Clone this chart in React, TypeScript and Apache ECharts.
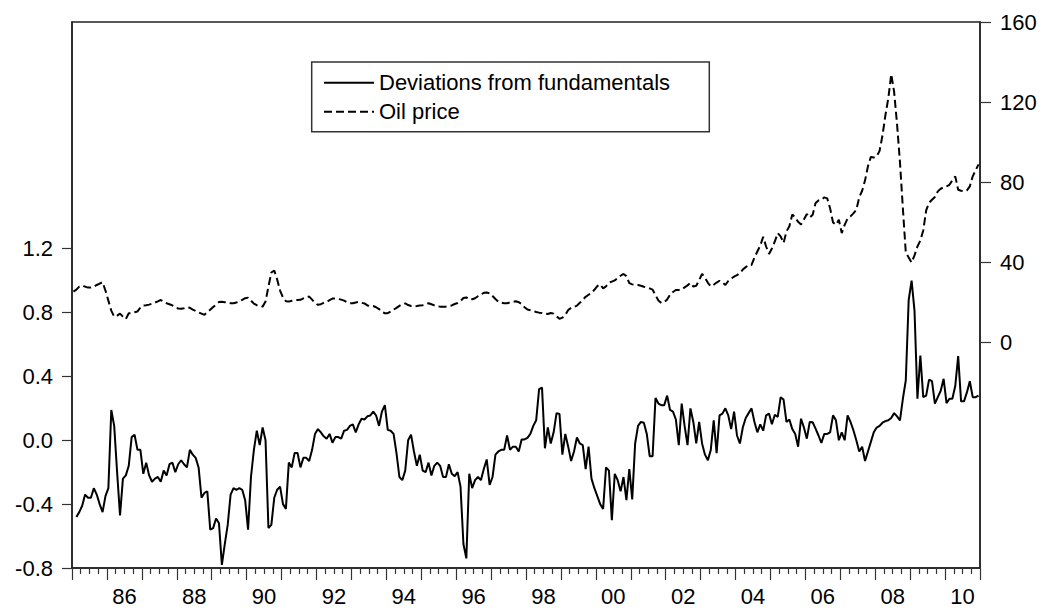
import React, { useEffect, useRef } from "react";
import * as echarts from "echarts";

// Monthly observations; deviations start 1985m2, oil price starts 1985m1
const START_YEAR = 1985;
const DEV_START_MONTH = 1;
const OIL_START_MONTH = 0;

const deviations = [
  -0.48, -0.45, -0.41, -0.34, -0.36, -0.36, -0.3, -0.34, -0.4, -0.45, -0.35,
  -0.3, 0.19, 0.09, -0.2, -0.47, -0.24, -0.22, -0.16, 0.02, 0.035, -0.06, -0.06,
  -0.21, -0.14, -0.22, -0.26, -0.24, -0.23, -0.26, -0.19, -0.22, -0.15, -0.14, -0.2,
  -0.15, -0.125, -0.15, -0.17, -0.06, -0.09, -0.11, -0.17, -0.36, -0.33, -0.32, -0.56,
  -0.55, -0.49, -0.52, -0.78, -0.65, -0.53, -0.34, -0.3, -0.31, -0.3, -0.31, -0.375,
  -0.56, -0.23, -0.06, 0.06, -0.03, 0.08, 0.0, -0.55, -0.53, -0.36, -0.31, -0.29,
  -0.4, -0.43, -0.14, -0.17, -0.08, -0.08, -0.17, -0.11, -0.11, -0.13, -0.06, 0.04,
  0.07, 0.05, 0.025, 0.01, 0.04, -0.015, 0.02, 0.02, 0.01, 0.06, 0.065, 0.09,
  0.1, 0.05, 0.1, 0.135, 0.13, 0.15, 0.155, 0.18, 0.155, 0.09, 0.18, 0.22,
  0.065, 0.06, 0.04, -0.08, -0.23, -0.25, -0.19, 0.0, 0.035, -0.07, -0.16, -0.09,
  -0.19, -0.2, -0.14, -0.22, -0.16, -0.14, -0.16, -0.23, -0.23, -0.15, -0.21, -0.225,
  -0.2, -0.29, -0.65, -0.74, -0.21, -0.3, -0.25, -0.23, -0.25, -0.18, -0.12, -0.28,
  -0.23, -0.09, -0.07, -0.06, -0.06, 0.03, -0.06, -0.04, -0.04, -0.07, 0.005, 0.005,
  0.015, 0.04, 0.09, 0.125, 0.32, 0.33, -0.05, 0.08, -0.02, 0.05, 0.17, 0.165,
  -0.09, 0.04, -0.04, -0.13, -0.07, 0.017, -0.02, -0.03, -0.18, -0.04, -0.24, -0.3,
  -0.35, -0.4, -0.43, -0.17, -0.19, -0.5, -0.21, -0.25, -0.32, -0.23, -0.375, -0.18,
  -0.37, -0.02, 0.09, 0.115, 0.11, 0.04, -0.1, -0.1, 0.265, 0.23, 0.22, 0.22,
  0.28, 0.19, 0.18, 0.13, -0.03, 0.23, 0.09, -0.03, 0.2, 0.115, -0.02, 0.115,
  -0.02, -0.09, -0.125, -0.06, 0.125, -0.08, 0.156, 0.167, 0.2, 0.156, 0.07, 0.18,
  0.03, -0.02, 0.08, 0.14, 0.17, 0.2, 0.115, 0.05, 0.1, 0.06, 0.156, 0.167,
  0.1, 0.16, 0.146, 0.27, 0.255, 0.115, 0.13, 0.07, 0.04, -0.04, 0.135, 0.08,
  0.01, 0.115, 0.113, 0.073, 0.03, -0.017, 0.04, 0.04, 0.05, 0.156, 0.125, 0.0,
  0.05, 0.0, 0.156, 0.115, 0.063, 0.0, -0.07, -0.04, -0.13, -0.07, -0.01, 0.05,
  0.08, 0.09, 0.11, 0.12, 0.125, 0.14, 0.17, 0.15, 0.125, 0.26, 0.375, 0.88,
  1.0, 0.81, 0.26, 0.53, 0.27, 0.28, 0.38, 0.37, 0.23, 0.27, 0.31, 0.385,
  0.233, 0.26, 0.26, 0.34, 0.527, 0.244, 0.244, 0.3, 0.37, 0.27, 0.27, 0.28,
];

const oilPrice = [
  25.5, 26.5, 28, 28.5, 28, 27.5, 27.5, 28, 28.8, 29.5, 30.2, 26,
  21, 16, 13, 13.5, 14.5, 13, 11.8, 14.7, 14.7, 15.2, 15.6, 17.5,
  18.6, 18.7, 19, 19.5, 20, 20.6, 21.3, 20.5, 19.7, 19.2, 18.6, 17.6,
  17.1, 16.9, 17.2, 17.7, 17.4, 16.5, 15.8, 15.1, 14.5, 13.9, 15.2, 16.5,
  17.8, 19, 20.3, 20.4, 20.2, 20, 19.7, 19.7, 20.1, 20.5, 21.4, 22.2,
  22.5, 21, 19.5, 18.7, 18.3, 18, 20.5, 28, 35, 36, 31.5, 26,
  22.5, 20.7, 20.5, 20.9, 21.3, 21.3, 21.4, 22.1, 22.7, 23, 21.5, 19.8,
  18.9, 19.2, 19.9, 20.4, 21.2, 22, 22, 21.8, 21.5, 21, 20.2, 19.7,
  19.7, 20.1, 20.3, 19.9, 19.6, 18.6, 18.3, 18.3, 17.7, 16.8, 15.4, 14.7,
  14.7, 15.5, 16.5, 17.4, 18.4, 19.3, 19.6, 18.8, 18.3, 18.1, 18.3, 18.6,
  18.7, 19.2, 19.7, 19.2, 18.6, 18.1, 18, 18, 18, 18.2, 18.6, 19.3,
  19.8, 20.8, 22.3, 22.6, 21.5, 21.7, 22.2, 23.2, 24, 24.9, 25, 24.7,
  23.3, 21.8, 20.5, 20, 19.7, 19.7, 20.1, 20.4, 20.7, 20.2, 19.3, 17.7,
  16.6, 16.2, 15.8, 15.3, 15, 14.8, 14.5, 14.3, 14.8, 14.5, 13.2, 11.9,
  12.5, 13.8, 16.3, 17.4, 17.8, 18.5, 19.9, 21.4, 22.9, 23.9, 24.9, 26.4,
  28.2, 29.1, 27.1, 28.1, 29.9, 30.5, 31.1, 32.2, 33.4, 34.3, 33.2, 29.7,
  29.1, 28.8, 28.8, 28.4, 27.9, 27.5, 27.1, 26.5, 23.6, 21.1, 19.8, 20.2,
  21.5, 24, 25.3, 26.3, 26.3, 26.6, 27.6, 28.6, 29.8, 28, 28.4, 31.2,
  34.3, 32.4, 29.9, 28.1, 28.9, 30, 30.9, 30.1, 28.8, 30.8, 32, 33,
  33.7, 34.7, 36.5, 37.7, 38.8, 38.8, 42.5, 45.5, 48.5, 52.8, 48, 44.3,
  47, 50.5, 54.7, 53, 49.8, 55.5, 58.1, 64, 62.5, 60.3, 59, 61.5,
  64.2, 62.4, 63.8, 69.7, 71, 71.3, 72.5, 72, 67, 60, 58.8, 61.3,
  54.7, 58.8, 62, 63, 64.5, 66.3, 72.5, 75.8, 81, 88, 92.7, 92.4,
  93, 95.7, 103.5, 113.5, 122, 134, 125, 109, 90, 67, 45, 42.5,
  40, 43.6, 48, 51, 56, 66, 69.8, 71.3, 72.7, 75.5, 76.8, 77.5,
  78, 78.8, 81, 83, 76.3, 75.8, 75.6, 76, 78, 83, 86, 89,
];

const labelYears = [1986, 1988, 1990, 1992, 1994, 1996, 1998, 2000, 2002, 2004, 2006, 2008, 2010];
const xTickLabels = ["86", "88", "90", "92", "94", "96", "98", "00", "02", "04", "06", "08", "10"];
const leftTicks = [-0.8, -0.4, 0.0, 0.4, 0.8, 1.2];
const leftTickLabels = ["-0.8", "-0.4", "0.0", "0.4", "0.8", "1.2"];
const rightTicks = [0, 40, 80, 120, 160];
const rightTickLabels = ["0", "40", "80", "120", "160"];
const seriesNames = ["Deviations from fundamentals", "Oil price"];

const FONT = "'Liberation Sans', Arial, Helvetica, sans-serif";

function toPoints(values: number[], startMonth: number) {
  return values.map((v, i) => [START_YEAR + (startMonth + i + 0.5) / 12, v]);
}

export default function App() {
  const ref = useRef<HTMLDivElement>(null);
  useEffect(() => {
    if (!ref.current) return;
    const chart = echarts.init(ref.current, undefined, { renderer: "svg" });
    const labelPos = labelYears.map((y) => y + 0.5);
    const yearTicks: number[] = [];
    for (let y = START_YEAR; y <= 2011; y++) yearTicks.push(y);
    const tickLine = { color: "#333", width: 1.2 };
    chart.setOption({
      animation: false,
      backgroundColor: "#ffffff",
      grid: {
        left: 72,
        right: 68,
        top: 22,
        bottom: 47,
        containLabel: false,
        outerBoundsMode: "none",
        show: true,
        borderColor: "#222",
        borderWidth: 1.5,
        backgroundColor: "transparent",
      },
      legend: {
        orient: "vertical",
        left: 312,
        top: 62,
        padding: [9.7, 4, 9, 11],
        itemGap: 7,
        itemWidth: 50,
        itemHeight: 14,
        selectedMode: false,
        data: seriesNames,
        itemStyle: { opacity: 0 },
        textStyle: { fontSize: 22, color: "#000", fontFamily: FONT },
      },
      graphic: [
        {
          type: "rect",
          shape: { x: 311.7, y: 62, width: 397.6, height: 69.7 },
          style: { fill: "transparent", stroke: "#333", lineWidth: 1.5 },
          z: 10,
        },
      ],
      xAxis: {
        type: "value",
        min: 1985,
        max: 2011,
        interval: 1,
        axisLine: { show: true, onZero: false, lineStyle: { color: "#222", width: 1.5 } },
        axisTick: { show: true, inside: false, length: 12, customValues: yearTicks, lineStyle: tickLine },
        minorTick: { show: true, splitNumber: 4, length: 6, lineStyle: tickLine },
        splitLine: { show: false },
        minorSplitLine: { show: false },
        axisLabel: {
          customValues: labelPos,
          margin: 17,
          color: "#000",
          fontSize: 22,
          fontFamily: FONT,
          formatter: (v: number) => {
            const idx = labelYears.indexOf(Math.round(v - 0.5));
            return idx >= 0 ? xTickLabels[idx] : "";
          },
        },
      },
      yAxis: [
        {
          type: "value",
          position: "left",
          min: -0.8,
          max: 2.62,
          axisLine: { show: true, onZero: false, lineStyle: { color: "#222", width: 1.5 } },
          axisTick: { show: true, inside: false, length: 10, customValues: leftTicks, lineStyle: tickLine },
          splitLine: { show: false },
          axisLabel: {
            customValues: leftTicks,
            margin: 19,
            color: "#000",
            fontSize: 22,
            fontFamily: FONT,
            formatter: (v: number) => {
              const idx = leftTicks.findIndex((t) => Math.abs(t - v) < 1e-6);
              return idx >= 0 ? leftTickLabels[idx] : "";
            },
          },
        },
        {
          type: "value",
          position: "right",
          min: -112.4,
          max: 160,
          axisLine: { show: true, onZero: false, lineStyle: { color: "#222", width: 1.5 } },
          axisTick: { show: true, inside: false, length: 11, customValues: rightTicks, lineStyle: tickLine },
          splitLine: { show: false },
          axisLabel: {
            customValues: rightTicks,
            margin: 20,
            color: "#000",
            fontSize: 22,
            fontFamily: FONT,
            formatter: (v: number) => {
              const idx = rightTicks.findIndex((t) => Math.abs(t - v) < 1e-6);
              return idx >= 0 ? rightTickLabels[idx] : "";
            },
          },
        },
      ],
      series: [
        {
          name: seriesNames[0],
          type: "line",
          yAxisIndex: 0,
          data: toPoints(deviations, DEV_START_MONTH),
          symbol: "none",
          showSymbol: false,
          lineStyle: { color: "#000", width: 2 },
          itemStyle: { color: "#000" },
        },
        {
          name: seriesNames[1],
          type: "line",
          yAxisIndex: 1,
          data: toPoints(oilPrice, OIL_START_MONTH),
          symbol: "none",
          showSymbol: false,
          lineStyle: { color: "#000", width: 2, type: [8, 4] },
          itemStyle: { color: "#000" },
        },
      ],
    });
    return () => chart.dispose();
  }, []);
  return (
    <div
      ref={ref}
      style={{ position: "absolute", left: 0, top: 0, width: 1048, height: 615, background: "#fff" }}
    />
  );
}
